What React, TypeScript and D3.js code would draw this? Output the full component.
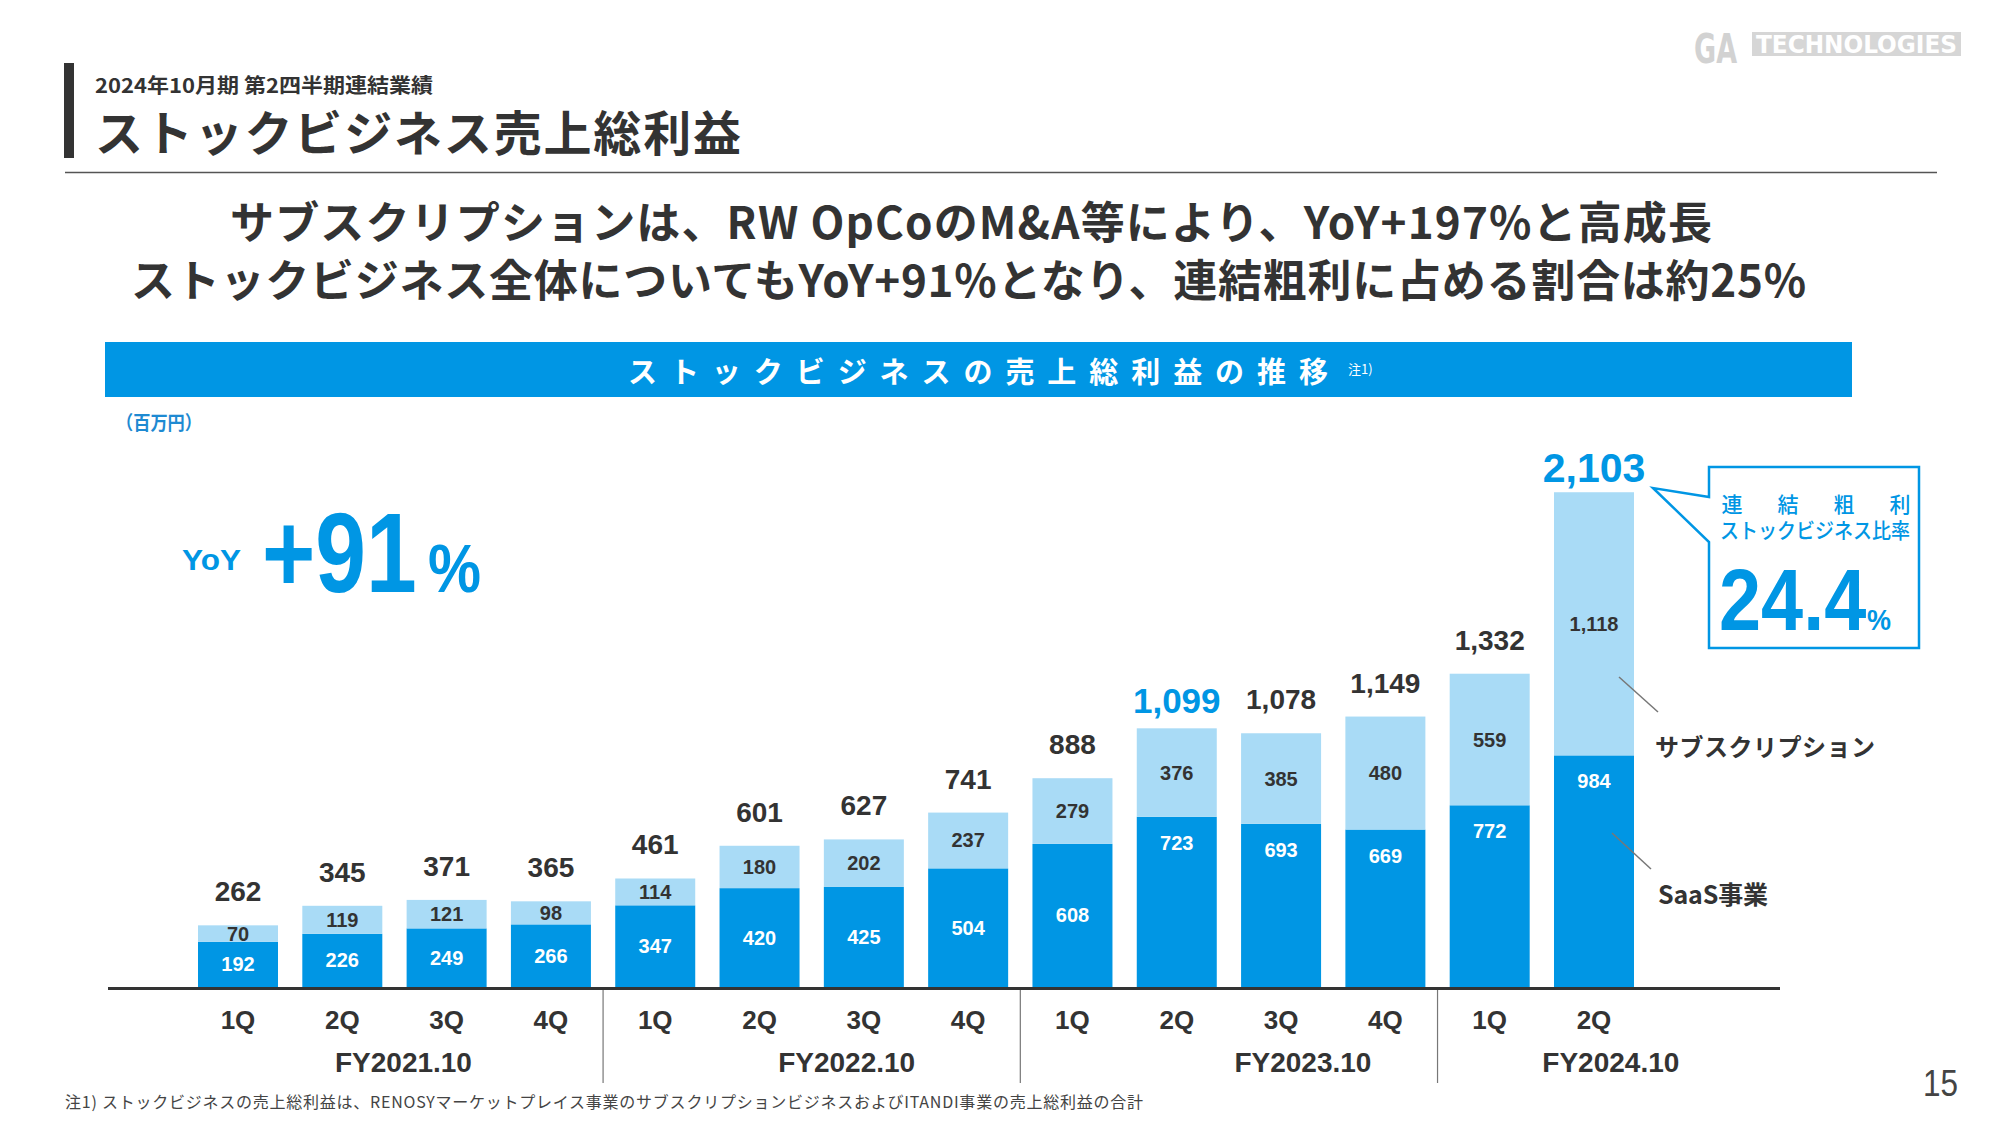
import React from "react";
import * as d3 from "d3";

const quarters = ["1Q", "2Q", "3Q", "4Q", "1Q", "2Q", "3Q", "4Q", "1Q", "2Q", "3Q", "4Q", "1Q", "2Q"];
const fiscalYears = ["FY2021.10", "FY2022.10", "FY2023.10", "FY2024.10"];
const quartersPerYear = [4, 4, 4, 2];
const saas = [192, 226, 249, 266, 347, 420, 425, 504, 608, 723, 693, 669, 772, 984];
const subscription = [70, 119, 121, 98, 114, 180, 202, 237, 279, 376, 385, 480, 559, 1118];
const totals = [262, 345, 371, 365, 461, 601, 627, 741, 888, 1099, 1078, 1149, 1332, 2103];
const highlighted = [9, 13];

const DARK = "#0096E4";
const LIGHT = "#A9DBF6";
const TXT = "#333333";
const JP = "'Noto Sans CJK JP', 'Noto Sans', sans-serif";
const NUM = "'Liberation Sans', Arial, 'Noto Sans CJK JP', sans-serif";
const fyLabelShift = [9, 35, 74, 69];

export default function App() {
  const idx = d3.range(quarters.length);
  const x = d3
    .scaleBand<number>()
    .domain(idx)
    .range([198, 1634])
    .paddingInner(0.233)
    .paddingOuter(0);
  const y = d3.scaleLinear().domain([0, 2103]).range([987, 492]);

  const rows = idx.map((i) => ({ i, saas: saas[i], sub: subscription[i] }));
  const stacked = d3.stack<any>().keys(["saas", "sub"])(rows as any);

  const bw = x.bandwidth();
  const cx = (i: number) => (x(i) as number) + bw / 2;

  const groupStarts: number[] = [];
  let acc = 0;
  quartersPerYear.forEach((n) => {
    groupStarts.push(acc);
    acc += n;
  });
  const step = x.step();

  return (
    <svg
      width={2000}
      height={1125}
      style={{ position: "absolute", left: 0, top: 0, display: "block", background: "#fff" }}
    >
      <rect x={0} y={0} width={2000} height={1125} fill="#fff" />
      {/* header */}
      <rect x={64} y={63} width={10} height={95} fill="#333" />
      <text x={95} y={84} dominantBaseline="central" fontFamily={JP} fontWeight={700} fontSize={20} fill={TXT} textLength={338} lengthAdjust="spacingAndGlyphs">
        2024年10月期 第2四半期連結業績
      </text>
      <text x={95} y={130} dominantBaseline="central" fontFamily={JP} fontWeight={700} fontSize={48} fill={TXT} textLength={646} lengthAdjust="spacing">
        ストックビジネス売上総利益
      </text>
      <line x1={65} x2={1937} y1={172.5} y2={172.5} stroke="#555" strokeWidth={1.6} />

      {/* logo */}
      <text x={1694} y={63} fontFamily="'DejaVu Sans Condensed', 'DejaVu Sans', sans-serif" fontWeight={700} fontSize={40} fill="#d2d2d2" textLength={43} lengthAdjust="spacingAndGlyphs">
        GA
      </text>
      <rect x={1752} y={32} width={209} height={24} fill="#d6d6d6" />
      <text x={1756} y={53} fontFamily="'DejaVu Sans Condensed', 'DejaVu Sans', sans-serif" fontWeight={700} fontSize={25} fill="#fff" textLength={201} lengthAdjust="spacingAndGlyphs">
        TECHNOLOGIES
      </text>

      {/* headline */}
      <text x={230} y={220} dominantBaseline="central" fontFamily={JP} fontWeight={700} fontSize={44} fill={TXT} textLength={1482} lengthAdjust="spacing">
        サブスクリプションは、RW OpCoのM&amp;A等により、YoY+197%と高成長
      </text>
      <text x={131} y={278} dominantBaseline="central" fontFamily={JP} fontWeight={700} fontSize={44} fill={TXT} textLength={1675} lengthAdjust="spacing">
        ストックビジネス全体についてもYoY+91%となり、連結粗利に占める割合は約25%
      </text>

      {/* banner */}
      <rect x={105} y={342} width={1747} height={55} fill={DARK} />
      <text x={628} y={370} dominantBaseline="central" fontFamily={JP} fontWeight={700} fontSize={29} fill="#fff" textLength={700} lengthAdjust="spacing">
        ストックビジネスの売上総利益の推移
      </text>
      <text x={1348} y={368} dominantBaseline="central" fontFamily={JP} fontSize={13} fill="#fff">
        注1)
      </text>
      <text x={116} y={421} dominantBaseline="central" fontFamily={JP} fontWeight={700} fontSize={19} fill="#1E8AD2" textLength={86} lengthAdjust="spacingAndGlyphs">
        （百万円）
      </text>

      {/* YoY */}
      <text x={182} y={570} fontFamily={NUM} fontWeight={700} fontSize={30} fill={DARK} textLength={59} lengthAdjust="spacingAndGlyphs">
        YoY
      </text>
      <text transform="translate(262,592) scale(0.8,1)" fontFamily={NUM} fontWeight={700} fontSize={114} fill={DARK}>
        +91
      </text>
      <text x={428} y={592} fontFamily={NUM} fontWeight={700} fontSize={68} fill={DARK} textLength={53} lengthAdjust="spacingAndGlyphs">
        %
      </text>

      {/* bars */}
      {stacked.map((series, si) => (
        <g key={si}>
          {series.map((d: any, i: number) => {
            const top = y(d[1]);
            const bot = y(d[0]);
            const h = bot - top;
            const isSaas = si === 0;
            const labelY = isSaas ? (h > 150 ? top + 26 : top + h / 2) : top + h / 2;
            const val = isSaas ? saas[i] : subscription[i];
            return (
              <g key={i}>
                <rect x={x(i)} y={top} width={bw} height={h} fill={isSaas ? DARK : LIGHT} />
                <text x={cx(i)} y={labelY} textAnchor="middle" dominantBaseline="central" fontFamily={NUM} fontWeight={700} fontSize={20} fill={isSaas ? "#fff" : TXT}>
                  {d3.format(",")(val)}
                </text>
              </g>
            );
          })}
        </g>
      ))}

      {/* totals */}
      {idx.map((i) => {
        const top = y(saas[i] + subscription[i]);
        const isHi = highlighted.includes(i);
        const isLast = i === quarters.length - 1;
        const fs = isLast ? 41 : isHi ? 35 : 28;
        const gap = isLast ? 10 : isHi ? 15 : 24;
        return (
          <text key={i} x={cx(i)} y={top - gap} textAnchor="middle" fontFamily={NUM} fontWeight={700} fontSize={fs} fill={isHi ? DARK : TXT}>
            {d3.format(",")(totals[i])}
          </text>
        );
      })}

      {/* axis */}
      <line x1={108} x2={1780} y1={988.5} y2={988.5} stroke="#333" strokeWidth={3} />
      {groupStarts.slice(1).map((s, k) => {
        const sx = (x(s) as number) - (step - bw) / 2;
        return <line key={k} x1={sx} x2={sx} y1={990} y2={1083} stroke="#777" strokeWidth={1.2} />;
      })}
      {idx.map((i) => (
        <text key={i} x={cx(i)} y={1020} textAnchor="middle" dominantBaseline="central" fontFamily={NUM} fontWeight={700} fontSize={26} fill={TXT}>
          {quarters[i]}
        </text>
      ))}
      {fiscalYears.map((fy, k) => {
        const s = groupStarts[k];
        const e = s + quartersPerYear[k] - 1;
        const mid = (cx(s) + cx(e)) / 2 + fyLabelShift[k];
        return (
          <text key={fy} x={mid} y={1062} textAnchor="middle" dominantBaseline="central" fontFamily={NUM} fontWeight={700} fontSize={28} fill={TXT}>
            {fy}
          </text>
        );
      })}

      {/* legend labels */}
      <line x1={1619} y1={677} x2={1658} y2={712} stroke="#777" strokeWidth={1.5} />
      <text x={1655} y={745} dominantBaseline="central" fontFamily={JP} fontWeight={700} fontSize={24} fill={TXT} textLength={220} lengthAdjust="spacing">
        サブスクリプション
      </text>
      <line x1={1612} y1={833} x2={1651} y2={869} stroke="#777" strokeWidth={1.5} />
      <text x={1658} y={893} dominantBaseline="central" fontFamily={JP} fontWeight={700} fontSize={25} fill={TXT} textLength={110} lengthAdjust="spacing">
        SaaS事業
      </text>

      {/* callout */}
      <path d="M1709,497 L1709,467 L1919,467 L1919,648 L1709,648 L1709,542 L1653,488 Z" fill="#fff" stroke={DARK} strokeWidth={2.5} />
      {["連", "結", "粗", "利"].map((c, k) => (
        <text key={c} x={1732 + k * 56} y={503} textAnchor="middle" dominantBaseline="central" fontFamily={JP} fontWeight={500} fontSize={21} fill={DARK}>
          {c}
        </text>
      ))}
      <text x={1720} y={529} dominantBaseline="central" fontFamily={JP} fontWeight={500} fontSize={21} fill={DARK} textLength={190} lengthAdjust="spacingAndGlyphs">
        ストックビジネス比率
      </text>
      <text transform="translate(1719,630) scale(0.86,1)" fontFamily={NUM} fontWeight={700} fontSize={88} fill={DARK}>
        24.4
      </text>
      <text x={1867} y={630} fontFamily={NUM} fontWeight={700} fontSize={30} fill={DARK} textLength={24} lengthAdjust="spacingAndGlyphs">
        %
      </text>

      {/* footnote */}
      <text x={65} y={1101} dominantBaseline="central" fontFamily={JP} fontSize={16} fill="#444" textLength={1078} lengthAdjust="spacing">
        注1) ストックビジネスの売上総利益は、RENOSYマーケットプレイス事業のサブスクリプションビジネスおよびITANDI事業の売上総利益の合計
      </text>
      <text x={1923} y={1096} fontFamily={NUM} fontSize={36} fill="#444" textLength={35} lengthAdjust="spacingAndGlyphs">
        15
      </text>
    </svg>
  );
}
